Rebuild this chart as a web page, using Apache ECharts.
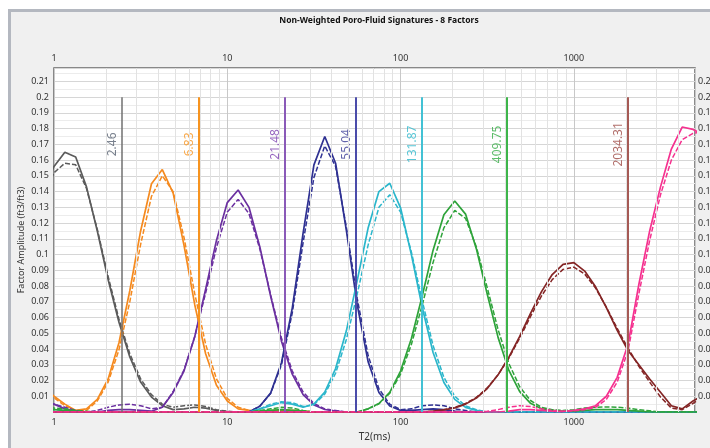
<!DOCTYPE html>
<html>
<head>
<meta charset="utf-8">
<script src="https://cdn.jsdelivr.net/npm/echarts@6/dist/echarts.min.js"></script>
<style>
html, body { margin: 0; padding: 0; background: #fff; overflow: hidden; }
#frame {
  position: absolute; left: 8px; top: 9px; width: 702px; height: 439px;
  box-sizing: border-box; background: #f0f0f0;
  border-left: 3px solid #b4b8c0; border-top: 3px solid #b4b8c0;
}
#chart { position: absolute; left: 0; top: 0; width: 710px; height: 448px; }
</style>
</head>
<body>
<div id="frame"></div>
<div id="chart"></div>
<script>
// T2 bins (ms), log spaced
const t2 = [
  0.866, 1, 1.155, 1.334, 1.540, 1.778, 2.054, 2.371, 2.738, 3.162,
  3.652, 4.217, 4.870, 5.623, 6.494, 7.499, 8.660, 10, 11.55, 13.34,
  15.40, 17.78, 20.54, 23.71, 27.38, 31.62, 36.52, 42.17, 48.70, 56.23,
  64.94, 74.99, 86.60, 100, 115.5, 133.4, 154.0, 177.8, 205.4, 237.1,
  273.8, 316.2, 365.2, 421.7, 487.0, 562.3, 649.4, 749.9, 866.0, 1000,
  1155, 1334, 1540, 1778, 2054, 2371, 2738, 3162, 3652, 4217,
  4870, 5623
];

// factor amplitudes, solid = factor, dashed = second estimate
const f1Solid = [
  0.140, 0.156, 0.165, 0.162, 0.143, 0.115, 0.084, 0.057, 0.035, 0.019,
  0.0095, 0.004, 0.0015, 0.002, 0.003, 0.0025, 0.001, 0, 0, 0,
  0, 0, 0, 0, 0, 0, 0, 0, 0, 0,
  0, 0, 0, 0, 0, 0, 0, 0, 0, 0,
  0, 0, 0, 0, 0, 0, 0, 0, 0, 0,
  0, 0, 0, 0, 0, 0, 0, 0, 0, 0,
  0, 0
];
const f1Dashed = [
  0.136, 0.152, 0.158, 0.157, 0.142, 0.116, 0.086, 0.059, 0.037, 0.021,
  0.011, 0.005, 0.003, 0.004, 0.0045, 0.0035, 0.0015, 0.0005, 0, 0,
  0, 0, 0, 0, 0, 0, 0, 0, 0, 0,
  0, 0, 0, 0, 0, 0, 0, 0, 0, 0,
  0, 0, 0, 0, 0, 0, 0, 0, 0, 0,
  0, 0, 0, 0, 0, 0, 0, 0, 0, 0,
  0, 0
];
const f2Solid = [
  0.016, 0.010, 0.005, 0.001, 0.002, 0.008, 0.021, 0.044, 0.077, 0.115,
  0.145, 0.154, 0.139, 0.106, 0.068, 0.037, 0.017, 0.007, 0.002, 0.001,
  0, 0.0005, 0.001, 0.001, 0.0005, 0, 0, 0, 0, 0,
  0, 0, 0, 0, 0, 0, 0, 0, 0, 0,
  0, 0, 0, 0, 0, 0, 0, 0, 0, 0,
  0, 0, 0, 0, 0, 0, 0, 0, 0, 0,
  0, 0
];
const f2Dashed = [
  0.014, 0.009, 0.004, 0.001, 0.001, 0.007, 0.019, 0.0395, 0.070, 0.1065,
  0.137, 0.150, 0.140, 0.111, 0.075, 0.043, 0.021, 0.0087, 0.003, 0.001,
  0.0005, 0.001, 0.0015, 0.001, 0.0005, 0, 0, 0, 0, 0,
  0, 0, 0, 0, 0, 0, 0, 0, 0, 0,
  0, 0, 0, 0, 0, 0, 0, 0, 0, 0,
  0, 0, 0, 0, 0, 0, 0, 0, 0, 0,
  0, 0
];
const f3Solid = [
  0.007, 0.005, 0.002, 0.0005, 0, 0, 0.001, 0.0015, 0.0015, 0.001,
  0.0005, 0.003, 0.0124, 0.026, 0.048, 0.078, 0.109, 0.133, 0.141, 0.130,
  0.105, 0.0737, 0.045, 0.024, 0.011, 0.0045, 0.0016, 0.0005, 0, 0,
  0, 0, 0, 0, 0, 0, 0, 0, 0, 0,
  0, 0, 0, 0, 0, 0, 0, 0, 0, 0,
  0, 0, 0, 0, 0, 0, 0, 0, 0, 0,
  0, 0
];
const f3Dashed = [
  0.007, 0.005, 0.003, 0.001, 0, 0.001, 0.003, 0.0045, 0.005, 0.004,
  0.002, 0.003, 0.013, 0.0267, 0.048, 0.0756, 0.1045, 0.127, 0.135, 0.126,
  0.1037, 0.0745, 0.047, 0.026, 0.0127, 0.0054, 0.002, 0.001, 0, 0,
  0, 0, 0, 0, 0, 0, 0, 0, 0, 0,
  0, 0, 0, 0, 0, 0, 0, 0, 0, 0,
  0, 0, 0, 0, 0, 0, 0, 0, 0, 0,
  0, 0
];
const f4Solid = [
  0, 0, 0, 0, 0, 0, 0, 0, 0, 0,
  0, 0, 0, 0, 0, 0, 0, 0, 0, 0,
  0.0037, 0.012, 0.0313, 0.066, 0.1136, 0.157, 0.175, 0.158, 0.115, 0.068,
  0.032, 0.0124, 0.0038, 0.001, 0.001, 0.0015, 0.002, 0.0015, 0.0005, 0,
  0, 0, 0, 0, 0, 0, 0, 0, 0, 0,
  0, 0, 0, 0, 0, 0, 0, 0, 0, 0,
  0, 0
];
const f4Dashed = [
  0, 0, 0, 0, 0, 0, 0, 0, 0, 0,
  0, 0, 0, 0, 0, 0, 0, 0, 0, 0,
  0.0037, 0.0118, 0.030, 0.063, 0.1075, 0.149, 0.169, 0.156, 0.117, 0.072,
  0.036, 0.0147, 0.0049, 0.0015, 0.002, 0.004, 0.0045, 0.004, 0.002, 0.001,
  0, 0, 0, 0, 0, 0, 0, 0, 0, 0,
  0, 0, 0, 0, 0, 0, 0, 0, 0, 0,
  0, 0
];
const f5Solid = [
  0, 0, 0, 0, 0, 0, 0, 0, 0, 0,
  0, 0, 0, 0, 0, 0, 0, 0, 0, 0,
  0.002, 0.004, 0.006, 0.005, 0.003, 0.005, 0.0126, 0.0276, 0.0517, 0.0836,
  0.1168, 0.140, 0.1453, 0.1296, 0.0998, 0.0664, 0.0378, 0.0187, 0.008, 0.0029,
  0.001, 0, 0, 0, 0, 0, 0, 0, 0, 0,
  0, 0, 0, 0, 0, 0, 0, 0, 0, 0,
  0, 0
];
const f5Dashed = [
  0.002, 0.0015, 0.001, 0.0005, 0, 0, 0, 0, 0, 0,
  0, 0, 0, 0, 0, 0, 0, 0, 0, 0,
  0.002, 0.005, 0.0065, 0.006, 0.0035, 0.0046, 0.0114, 0.0246, 0.0462, 0.075,
  0.106, 0.130, 0.138, 0.127, 0.1015, 0.0705, 0.0422, 0.022, 0.010, 0.0039,
  0.0014, 0, 0, 0, 0, 0, 0, 0, 0, 0,
  0, 0, 0, 0, 0, 0, 0, 0, 0, 0,
  0, 0
];
const f6Solid = [
  0.002, 0.0015, 0.001, 0.0005, 0, 0, 0, 0, 0, 0,
  0, 0, 0, 0, 0, 0, 0, 0, 0, 0,
  0.0005, 0.001, 0.0015, 0.001, 0.0005, 0, 0, 0, 0, 0,
  0.002, 0.0054, 0.0125, 0.026, 0.0467, 0.0738, 0.1028, 0.1253, 0.134, 0.1257,
  0.1036, 0.0749, 0.0474, 0.0264, 0.0129, 0.0055, 0.0021, 0.001, 0.0005, 0.0005,
  0.001, 0.0015, 0.0015, 0.0015, 0.001, 0.0005, 0, 0, 0, 0,
  0, 0
];
const f6Dashed = [
  0.003, 0.0025, 0.002, 0.001, 0.0005, 0, 0, 0, 0, 0,
  0, 0, 0, 0, 0, 0, 0, 0, 0, 0,
  0.001, 0.002, 0.003, 0.0025, 0.001, 0, 0, 0, 0, 0,
  0.002, 0.0052, 0.0119, 0.0241, 0.043, 0.068, 0.095, 0.117, 0.128, 0.123,
  0.1048, 0.079, 0.0524, 0.0308, 0.016, 0.0073, 0.003, 0.0015, 0.001, 0.0015,
  0.0025, 0.003, 0.0032, 0.003, 0.0025, 0.0015, 0.0008, 0, 0, 0,
  0, 0
];
const f7Solid = [
  0, 0, 0, 0, 0, 0, 0, 0, 0, 0,
  0, 0, 0, 0, 0, 0, 0, 0, 0, 0,
  0, 0, 0, 0, 0, 0, 0, 0, 0, 0,
  0, 0, 0, 0, 0, 0, 0.0005, 0.0013, 0.0026, 0.005,
  0.0089, 0.0149, 0.0236, 0.0348, 0.048, 0.0626, 0.0763, 0.0873, 0.0938, 0.0949,
  0.0895, 0.0795, 0.0663, 0.0519, 0.039, 0.030, 0.021, 0.0125, 0.004, 0.002,
  0.007, 0.011
];
const f7Dashed = [
  0, 0, 0, 0, 0, 0, 0, 0, 0, 0,
  0, 0, 0, 0, 0, 0, 0, 0, 0, 0,
  0, 0, 0, 0, 0, 0, 0, 0, 0, 0,
  0, 0, 0, 0, 0, 0, 0.0005, 0.0015, 0.0029, 0.0054,
  0.0093, 0.0153, 0.0236, 0.0343, 0.047, 0.0607, 0.0736, 0.0841, 0.0906, 0.092,
  0.0876, 0.0787, 0.0666, 0.0531, 0.0405, 0.029, 0.019, 0.0095, 0.0025, 0.0015,
  0.0055, 0.010
];
const f8Solid = [
  0, 0, 0, 0, 0, 0, 0, 0, 0, 0,
  0, 0, 0, 0, 0, 0, 0, 0, 0, 0,
  0, 0, 0, 0, 0, 0, 0, 0, 0, 0,
  0, 0, 0, 0, 0, 0, 0, 0, 0, 0,
  0, 0, 0, 0.0005, 0.0015, 0.0015, 0.001, 0.0005, 0.0003, 0.001,
  0.002, 0.004, 0.010, 0.022, 0.043, 0.081, 0.115, 0.143, 0.167, 0.181,
  0.1795, 0.176
];
const f8Dashed = [
  0, 0, 0, 0, 0, 0, 0, 0, 0, 0,
  0, 0, 0, 0, 0, 0, 0, 0, 0, 0,
  0, 0, 0, 0, 0, 0, 0, 0, 0, 0,
  0, 0, 0, 0, 0, 0, 0, 0, 0, 0,
  0, 0.0005, 0.0015, 0.003, 0.004, 0.0035, 0.002, 0.001, 0.0005, 0.0008,
  0.0015, 0.003, 0.008, 0.019, 0.039, 0.075, 0.109, 0.138, 0.160, 0.173,
  0.177, 0.178
];

// cutoff T2 values between the factors
const cutoffs = [2.46, 6.83, 21.48, 55.04, 131.87, 409.75, 2034.31];
const cutoffText = ['2.46', '6.83', '21.48', '55.04', '131.87', '409.75', '2034.31'];
const cutoffTop = 0.2;
const cutoffLabelAt = 0.17;

// minor log grid lines
const minorT2 = [2, 3, 4, 5, 6, 7, 8, 9, 20, 30, 40, 50, 60, 70, 80, 90,
  200, 300, 400, 500, 600, 700, 800, 900, 2000, 3000, 4000];

const FONT = 'Noto Sans';
const factorColors = ['#5b5b5b', '#f58a1f', '#6b30a0', '#2f3192', '#2bb6cb', '#2ea33a', '#842525', '#f5318f'];
const cutoffLineColors = ['#707070', '#f7931e', '#8a5ab8', '#4b4caa', '#42c1d4', '#3db54a', '#a65a55'];
const cutoffLabelColors = ['#566070', '#f7931e', '#7b3fae', '#3b3c96', '#2fb8cc', '#35ad45', '#9e4a45'];

const factors = [
  [f1Solid, f1Dashed], [f2Solid, f2Dashed], [f3Solid, f3Dashed], [f4Solid, f4Dashed],
  [f5Solid, f5Dashed], [f6Solid, f6Dashed], [f7Solid, f7Dashed], [f8Solid, f8Dashed]
];

function pts(vals) {
  return t2.map((t, i) => [t, vals[i]]);
}

const series = [];

// light vertical lines at 2..9 of each decade
series.push({
  type: 'line',
  data: [],
  silent: true,
  z: 1,
  markLine: {
    silent: true,
    symbol: 'none',
    animation: false,
    label: { show: false },
    lineStyle: { color: '#e2e2e2', width: 1, type: 'solid' },
    data: minorT2.map(v => ({ xAxis: v }))
  }
});

factors.forEach((f, i) => {
  series.push({
    type: 'line',
    name: 'Factor ' + (i + 1),
    data: pts(f[0]),
    showSymbol: false,
    lineStyle: { color: factorColors[i], width: 1.7 },
    z: 3
  });
  series.push({
    type: 'line',
    name: 'Factor ' + (i + 1) + ' est',
    data: pts(f[1]),
    showSymbol: false,
    lineStyle: { color: factorColors[i], width: 1.5, type: [5, 2] },
    z: 3
  });
});

// cutoff lines + rotated labels
series.push({
  type: 'scatter',
  name: 'cutoffs',
  symbolSize: 0,
  silent: true,
  z: 4,
  data: cutoffs.map((c, i) => ({ value: [c, cutoffLabelAt], label: { color: cutoffLabelColors[i] } })),
  label: {
    show: true,
    position: 'inside',
    rotate: 90,
    offset: [0, -9],
    fontSize: 12,
    fontFamily: FONT,
    formatter: p => cutoffText[p.dataIndex]
  },
  markLine: {
    silent: true,
    symbol: 'none',
    animation: false,
    label: { show: false },
    data: cutoffs.map((c, i) => [
      { coord: [c, 0], lineStyle: { color: cutoffLineColors[i], width: i === 0 ? 1.5 : 2, type: 'solid' } },
      { coord: [c, cutoffTop] }
    ])
  }
});

const axisLabelStyle = { fontSize: 9, color: '#333', fontFamily: FONT };

const chart = echarts.init(document.getElementById('chart'));
chart.setOption({
  animation: false,
  backgroundColor: 'transparent',
  title: {
    text: 'Non-Weighted Poro-Fluid Signatures - 8 Factors',
    left: 374,
    top: 11,
    textAlign: 'center',
    textStyle: { fontSize: 8.5, fontWeight: 'bold', color: '#111', fontFamily: FONT }
  },
  grid: {
    left: 54, right: 15, top: 68, bottom: 36,
    outerBoundsMode: 'none',
    containLabel: false,
    show: true,
    backgroundColor: '#fff',
    borderColor: '#666',
    borderWidth: 1.5
  },
  xAxis: [{
    type: 'log',
    logBase: 10,
    min: 1,
    max: 5000,
    position: 'bottom',
    name: 'T2(ms)',
    nameLocation: 'middle',
    nameGap: 18,
    nameTextStyle: { fontSize: 10, color: '#333', fontFamily: FONT },
    axisLine: { show: false },
    axisTick: { show: false },
    axisLabel: Object.assign({ margin: 6, showMaxLabel: false, formatter: v => String(Math.round(v)) }, axisLabelStyle),
    splitLine: { show: true, lineStyle: { color: '#c8c8c8' } }
  }, {
    type: 'log',
    logBase: 10,
    min: 1,
    max: 5000,
    position: 'top',
    axisLine: { show: false },
    axisTick: { show: false },
    axisLabel: Object.assign({ margin: 5, showMaxLabel: false, formatter: v => String(Math.round(v)) }, axisLabelStyle),
    splitLine: { show: false }
  }],
  yAxis: [{
    type: 'value',
    min: 0,
    max: 0.2185,
    interval: 0.01,
    name: 'Factor Amplitude (ft3/ft3)',
    nameLocation: 'middle',
    nameGap: 28,
    nameMoveOverlap: false,
    nameTextStyle: { fontSize: 9, color: '#333', fontFamily: FONT },
    axisLine: { show: false },
    axisTick: { show: false },
    axisLabel: Object.assign({ margin: 5, showMinLabel: false, showMaxLabel: false }, axisLabelStyle),
    splitLine: { show: true, lineStyle: { color: '#d6d6d6' } },
    minorTick: { show: false, splitNumber: 2 },
    minorSplitLine: { show: true, lineStyle: { color: '#ececec' } }
  }, {
    type: 'value',
    min: 0,
    max: 0.2185,
    interval: 0.01,
    position: 'right',
    axisLine: { show: false },
    axisTick: { show: false },
    axisLabel: Object.assign({ margin: 3, showMinLabel: false, showMaxLabel: false }, axisLabelStyle),
    splitLine: { show: false }
  }],
  series: series
});
</script>
</body>
</html>
